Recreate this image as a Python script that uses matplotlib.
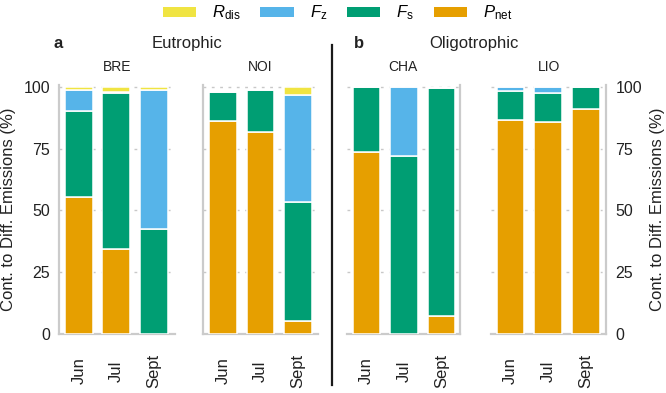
import matplotlib
matplotlib.use('Agg')
import matplotlib.pyplot as plt
from matplotlib.patches import Patch
from matplotlib.lines import Line2D
import numpy as np

plt.rcParams['font.family'] = ['Liberation Sans', 'DejaVu Sans']
plt.rcParams['mathtext.fontset'] = 'custom'
plt.rcParams['mathtext.rm'] = 'Liberation Sans'
plt.rcParams['mathtext.it'] = 'Liberation Sans:italic'
plt.rcParams['mathtext.bf'] = 'Liberation Sans:bold'

# ---- data ----
months = ['Jun', 'Jul', 'Sept']
sites = ['BRE', 'NOI', 'CHA', 'LIO']
groups = ['Eutrophic', 'Oligotrophic']
group_tags = ['a', 'b']
yticks = [0, 25, 50, 75, 100]

# contributions (%), order: BRE(Jun,Jul,Sept), NOI(...), CHA(...), LIO(...)
p_net = [55.2, 34.2, 0.0,   86.3, 81.6, 5.0,   73.7, 0.0, 7.3,   86.6, 85.7, 91.2]
f_s   = [35.2, 63.2, 42.3,  11.8, 17.2, 48.4,  26.3, 72.0, 92.2,  11.8, 12.0, 8.7]
f_z   = [8.4, 0.6, 56.5,    0.0, 0.0, 43.2,    0.0, 28.0, 0.0,    1.5, 2.2, 0.0]
r_dis = [1.0, 1.8, 1.0,     0.0, 0.0, 3.3,     0.0, 0.0, 0.0,     0.0, 0.0, 0.0]

labels = [r'$R_{\mathrm{dis}}$', r'$F_{\mathrm{z}}$', r'$F_{\mathrm{s}}$', r'$P_{\mathrm{net}}$']
colors = ['#F0E442', '#56B4E9', '#009E73', '#E69F00']

# ---- layout ----
W, H = 666, 393
fig = plt.figure(figsize=(W / 100, H / 100), dpi=100)

y0_px, y100_px = 333.5, 87.0
ppu = (y0_px - y100_px) / 100.0
ytop = 101.0
ax_bottom = (H - y0_px) / H
ax_height = ytop * ppu / H

ax_px = [(59.3, 175.0), (202.7, 318.4), (346.7, 459.5), (491.3, 606.3)]
xlims = [(-0.52, 2.56), (-0.54, 2.54), (-0.53, 2.48), (-0.51, 2.55)]
spine_c = '#cbcbcb'
txt_c = '#222222'

x = np.arange(len(months))
stack_order = [p_net, f_s, f_z, r_dis]
stack_colors = [colors[3], colors[2], colors[1], colors[0]]

axes = []
for i, site in enumerate(sites):
    l, r = ax_px[i]
    ax = fig.add_axes([l / W, ax_bottom, (r - l) / W, ax_height])
    axes.append(ax)
    sl = slice(3 * i, 3 * i + 3)
    bottom = np.zeros(3)
    for vals, c in zip(stack_order, stack_colors):
        v = np.array(vals[sl])
        ax.bar(x, v, bottom=bottom, width=0.74, color=c, edgecolor='white',
               linewidth=1.1, zorder=3)
        bottom += v
    ax.set_xlim(*xlims[i])
    ax.set_ylim(0, ytop)
    ax.set_yticks(yticks)
    ax.yaxis.grid(True, color='#c8c8c8', linestyle=(0, (2, 4)), linewidth=1.0)
    ax.set_axisbelow(True)
    for s in ax.spines.values():
        s.set_visible(False)
    ax.spines['bottom'].set_visible(True)
    ax.spines['bottom'].set_color(spine_c)
    ax.spines['bottom'].set_linewidth(1.6)
    side = 'left' if i < 2 else 'right'
    ax.spines[side].set_visible(True)
    ax.spines[side].set_color(spine_c)
    ax.spines[side].set_linewidth(1.6)
    ax.set_xticks(x, months, rotation=90, va='center', fontsize=12, color=txt_c)
    ax.tick_params(axis='x', length=0, pad=27)
    if i == 0:
        ax.tick_params(axis='y', length=0, pad=6.5, labelsize=11.5, labelcolor=txt_c)
    elif i == 3:
        ax.yaxis.tick_right()
        ax.tick_params(axis='y', length=0, pad=6.5, labelsize=11.5, labelcolor=txt_c,
                       labelright=True, labelleft=False)
    else:
        ax.tick_params(axis='y', length=0, labelleft=False, labelright=False)
    cx = ((l + r) / 2) / W
    fig.text(cx, 1 - 66.7 / H, site, ha='center', va='center', fontsize=10, color=txt_c)

# y labels
ylab = 'Cont. to Diff. Emissions (%)'
yc = 1 - ((y0_px + (y0_px - ytop * ppu)) / 2) / H
fig.text(8.5 / W, yc, ylab, rotation=90, ha='center', va='center', fontsize=12, color=txt_c)
fig.text(657.5 / W, yc, ylab, rotation=90, ha='center', va='center', fontsize=12, color=txt_c)

# group titles
ty = 1 - 43.3 / H
fig.text(58 / W, ty, group_tags[0], ha='center', va='center', fontsize=12,
         fontweight='bold', color=txt_c)
fig.text(187 / W, ty, groups[0], ha='center', va='center', fontsize=12, color=txt_c)
fig.text(359 / W, ty, group_tags[1], ha='center', va='center', fontsize=12,
         fontweight='bold', color=txt_c)
fig.text(474 / W, ty, groups[1], ha='center', va='center', fontsize=12, color=txt_c)

# divider
fig.add_artist(Line2D([331.5 / W, 331.5 / W], [1 - 45 / H, 1 - 385 / H],
                      transform=fig.transFigure, color='#1a1a1a', linewidth=1.6))

# legend
handles = [Patch(facecolor=c, edgecolor='none') for c in colors]
fig.legend(handles, labels, loc='center', bbox_to_anchor=(337.5 / W, 1 - 13 / H),
           ncol=4, frameon=False, fontsize=12, handlelength=2.0, handleheight=0.55,
           handletextpad=0.95, columnspacing=1.2, borderaxespad=0, borderpad=0)

fig.savefig('out.png', dpi=100)
